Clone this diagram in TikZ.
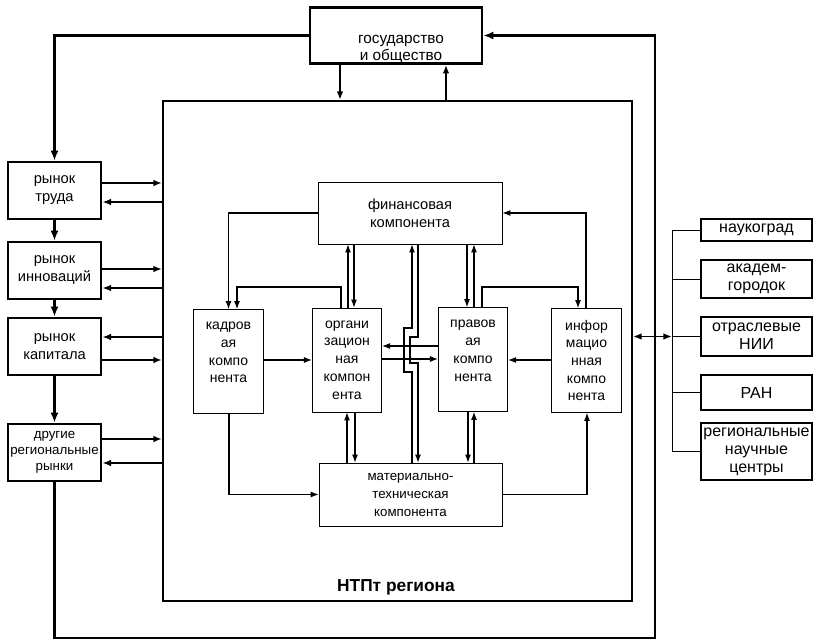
\documentclass[tikz,border=0pt]{standalone}
\usepackage{fontspec}
\setmainfont{Liberation Sans}
\usetikzlibrary{arrows.meta}

\begin{document}
\begin{tikzpicture}[
    x=0.75pt, y=-0.75pt,
    box/.style={rectangle, draw, line width=0.6pt, align=center, inner sep=1pt, font=\fontsize{10.5}{13.3}\selectfont},
    comp/.style={box, minimum width=52pt, minimum height=78pt},
    bigbox/.style={rectangle, draw, line width=2pt, align=center, inner sep=1pt, font=\fontsize{11}{13.5}\selectfont},
    market/.style={bigbox, minimum width=69.75pt, minimum height=42.75pt},
    scibox/.style={bigbox, minimum width=83.25pt, font=\fontsize{12}{13.5}\selectfont},
    arrow/.style={-{Latex[length=6pt, width=4.5pt]}, line width=0.8pt},
    midarrow/.style={-{Latex[length=6.5pt, width=5pt]}, line width=1.3pt},
    bigarrow/.style={-{Latex[length=7.5pt, width=6pt]}, line width=2.2pt},
    dblarrow/.style={{Latex[length=6.5pt, width=5pt]}-{Latex[length=6.5pt, width=5pt]}, line width=1.3pt},
    line/.style={line width=0.6pt},
]
\useasboundingbox (0,0) rectangle (814,641);

%% NODES
    % state and society
    \node[bigbox, minimum width=129pt, minimum height=42pt] (gov) at (396,35.5) {};
    \node[align=center, font=\fontsize{11.5}{13}\selectfont] (gov_text) at (401,49.5) {государство\\и общество};

    % region
    \node[draw, line width=1.5pt, minimum width=351.75pt, minimum height=375pt] (ntp) at (397.5,351) {};
    \node[font=\bfseries\fontsize{13}{15}\selectfont] (ntp_title) at (396,587) {НТПт региона};

    % markets
    \node[market] (truda) at (54.5,190.5) {рынок\\труда};
    \node[market] (innov) at (54.5,270.5) {рынок\\инноваций};
    \node[market] (capital) at (54.5,346.5) {рынок\\капитала};
    \node[market, font=\fontsize{10}{12}\selectfont] (others) at (54.5,452.5) {другие\\региональные\\рынки};

    % components
    \node[box, minimum width=138pt, minimum height=46.5pt, font=\fontsize{11}{13.3}\selectfont] (fin) at (410,213) {финансовая\\компонента};
    \node[comp] (kadr) at (228.5,361.5) {кадров\\ая\\компо\\нента\\\mbox{}};
    \node[comp] (orga) at (347,360) {органи\\зацион\\ная\\компон\\ента};
    \node[comp] (pravo) at (473,359.5) {правов\\ая\\компо\\нента\\\mbox{}};
    \node[comp] (info) at (586.5,360.5) {инфор\\мацио\\нная\\компо\\нента};
    \node[box, minimum width=137.25pt, minimum height=47.25pt, font=\fontsize{10}{13.5}\selectfont] (mat) at (410.5,494.5) {материально-\\техническая\\компонента};

    % science
    \node[scibox, minimum height=16.5pt] (nauko) at (756.5,230) {наукоград};
    \node[scibox, minimum height=28.5pt] (akadem) at (756.5,279) {академ-\\городок};
    \node[scibox, minimum height=29.25pt] (nii) at (756.5,336.5) {отраслевые\\НИИ};
    \node[scibox, minimum height=26.25pt] (ran) at (756.5,392.5) {РАН};
    \node[scibox, minimum height=42.75pt] (centers) at (756.5,451.5) {региональные\\научные\\центры};

%% CONNECTIONS
    % state -> markets -> state
    \draw[bigarrow] (gov.west) -| (truda.north);
    \coordinate (loop_corner) at (655,638);
    \draw[bigarrow] (others.south) |- (loop_corner) |- (gov.east);

    % market chain
    \draw[bigarrow] (truda.south) -- (innov.north);
    \draw[bigarrow] (innov.south) -- (capital.north);
    \draw[bigarrow] (capital.south) -- (others.north);

    % state <-> region
    \draw[midarrow] (gov.south -| 340,0) -- (ntp.north -| 340,0);
    \draw[midarrow] (ntp.north -| 446,0) -- (gov.south -| 446,0);

    % markets <-> region
    \draw[midarrow] (truda.east |- 0,183) -- (ntp.west |- 0,183);
    \draw[midarrow] (ntp.west |- 0,202) -- (truda.east |- 0,202);
    \draw[midarrow] (innov.east |- 0,269) -- (ntp.west |- 0,269);
    \draw[midarrow] (ntp.west |- 0,288) -- (innov.east |- 0,288);
    \draw[midarrow] (ntp.west |- 0,337) -- (capital.east |- 0,337);
    \draw[midarrow] (capital.east |- 0,360) -- (ntp.west |- 0,360);
    \draw[midarrow] (others.east |- 0,439) -- (ntp.west |- 0,439);
    \draw[midarrow] (ntp.west |- 0,463) -- (others.east |- 0,463);

    % region <-> science
    \draw[dblarrow] (ntp.east |- nii.west) -- (nii.west -| 672,0);
    \draw[line] (nauko.west) -| (centers.west -| 672,0) -- (centers.west);
    \draw[line] (akadem.west) -- (akadem.west -| 672,0);
    \draw[line] (nii.west) -- (nii.west -| 672,0);
    \draw[line] (ran.west) -- (ran.west -| 672,0);

    % finance
    \draw[arrow] (fin.west) -| (kadr.north);
    \draw[arrow] (orga.north -| 348,0) -- (fin.south -| 348,0);
    \draw[arrow] (fin.south -| 354,0) -- (orga.north -| 354,0);
    \draw[arrow] (fin.south -| 467,0) -- (pravo.north -| 467,0);
    \draw[arrow] (pravo.north -| 474,0) -- (fin.south -| 474,0);
    \draw[arrow] (info.north -| 586,0) |- (fin.east);

    % finance <-> material
    \draw[arrow] (mat.north -| 412,0) -- (412,372) -- (404,372) -- (404,328) -- (412,328) -- (fin.south -| 412,0);
    \draw[arrow] (fin.south -| 418,0) -- (418,337) -- (410,337) -- (410,363) -- (418,363) -- (mat.north -| 418,0);

    % between components
    \draw[arrow] (orga.north -| 341,0) -- (341,287) -| (kadr.north -| 237,0);
    \draw[arrow] (pravo.north -| 482,0) -- (482,287) -| (info.north -| 578,0);
    \draw[arrow] (kadr.east |- 0,360) -- (orga.west |- 0,360);
    \draw[arrow] (pravo.west |- 0,346) -- (orga.east |- 0,346);
    \draw[arrow] (orga.east |- 0,359) -- (pravo.west |- 0,359);
    \draw[arrow] (info.west |- 0,360) -- (pravo.east |- 0,360);

    % material
    \draw[arrow] (kadr.south -| 229,0) |- (mat.west);
    \draw[arrow] (mat.east) -| (info.south -| 587,0);
    \draw[arrow] (mat.north -| 347,0) -- (orga.south -| 347,0);
    \draw[arrow] (orga.south -| 355,0) -- (mat.north -| 355,0);
    \draw[arrow] (pravo.south -| 468,0) -- (mat.north -| 468,0);
    \draw[arrow] (mat.north -| 474,0) -- (pravo.south -| 474,0);

\end{tikzpicture}
\end{document}
